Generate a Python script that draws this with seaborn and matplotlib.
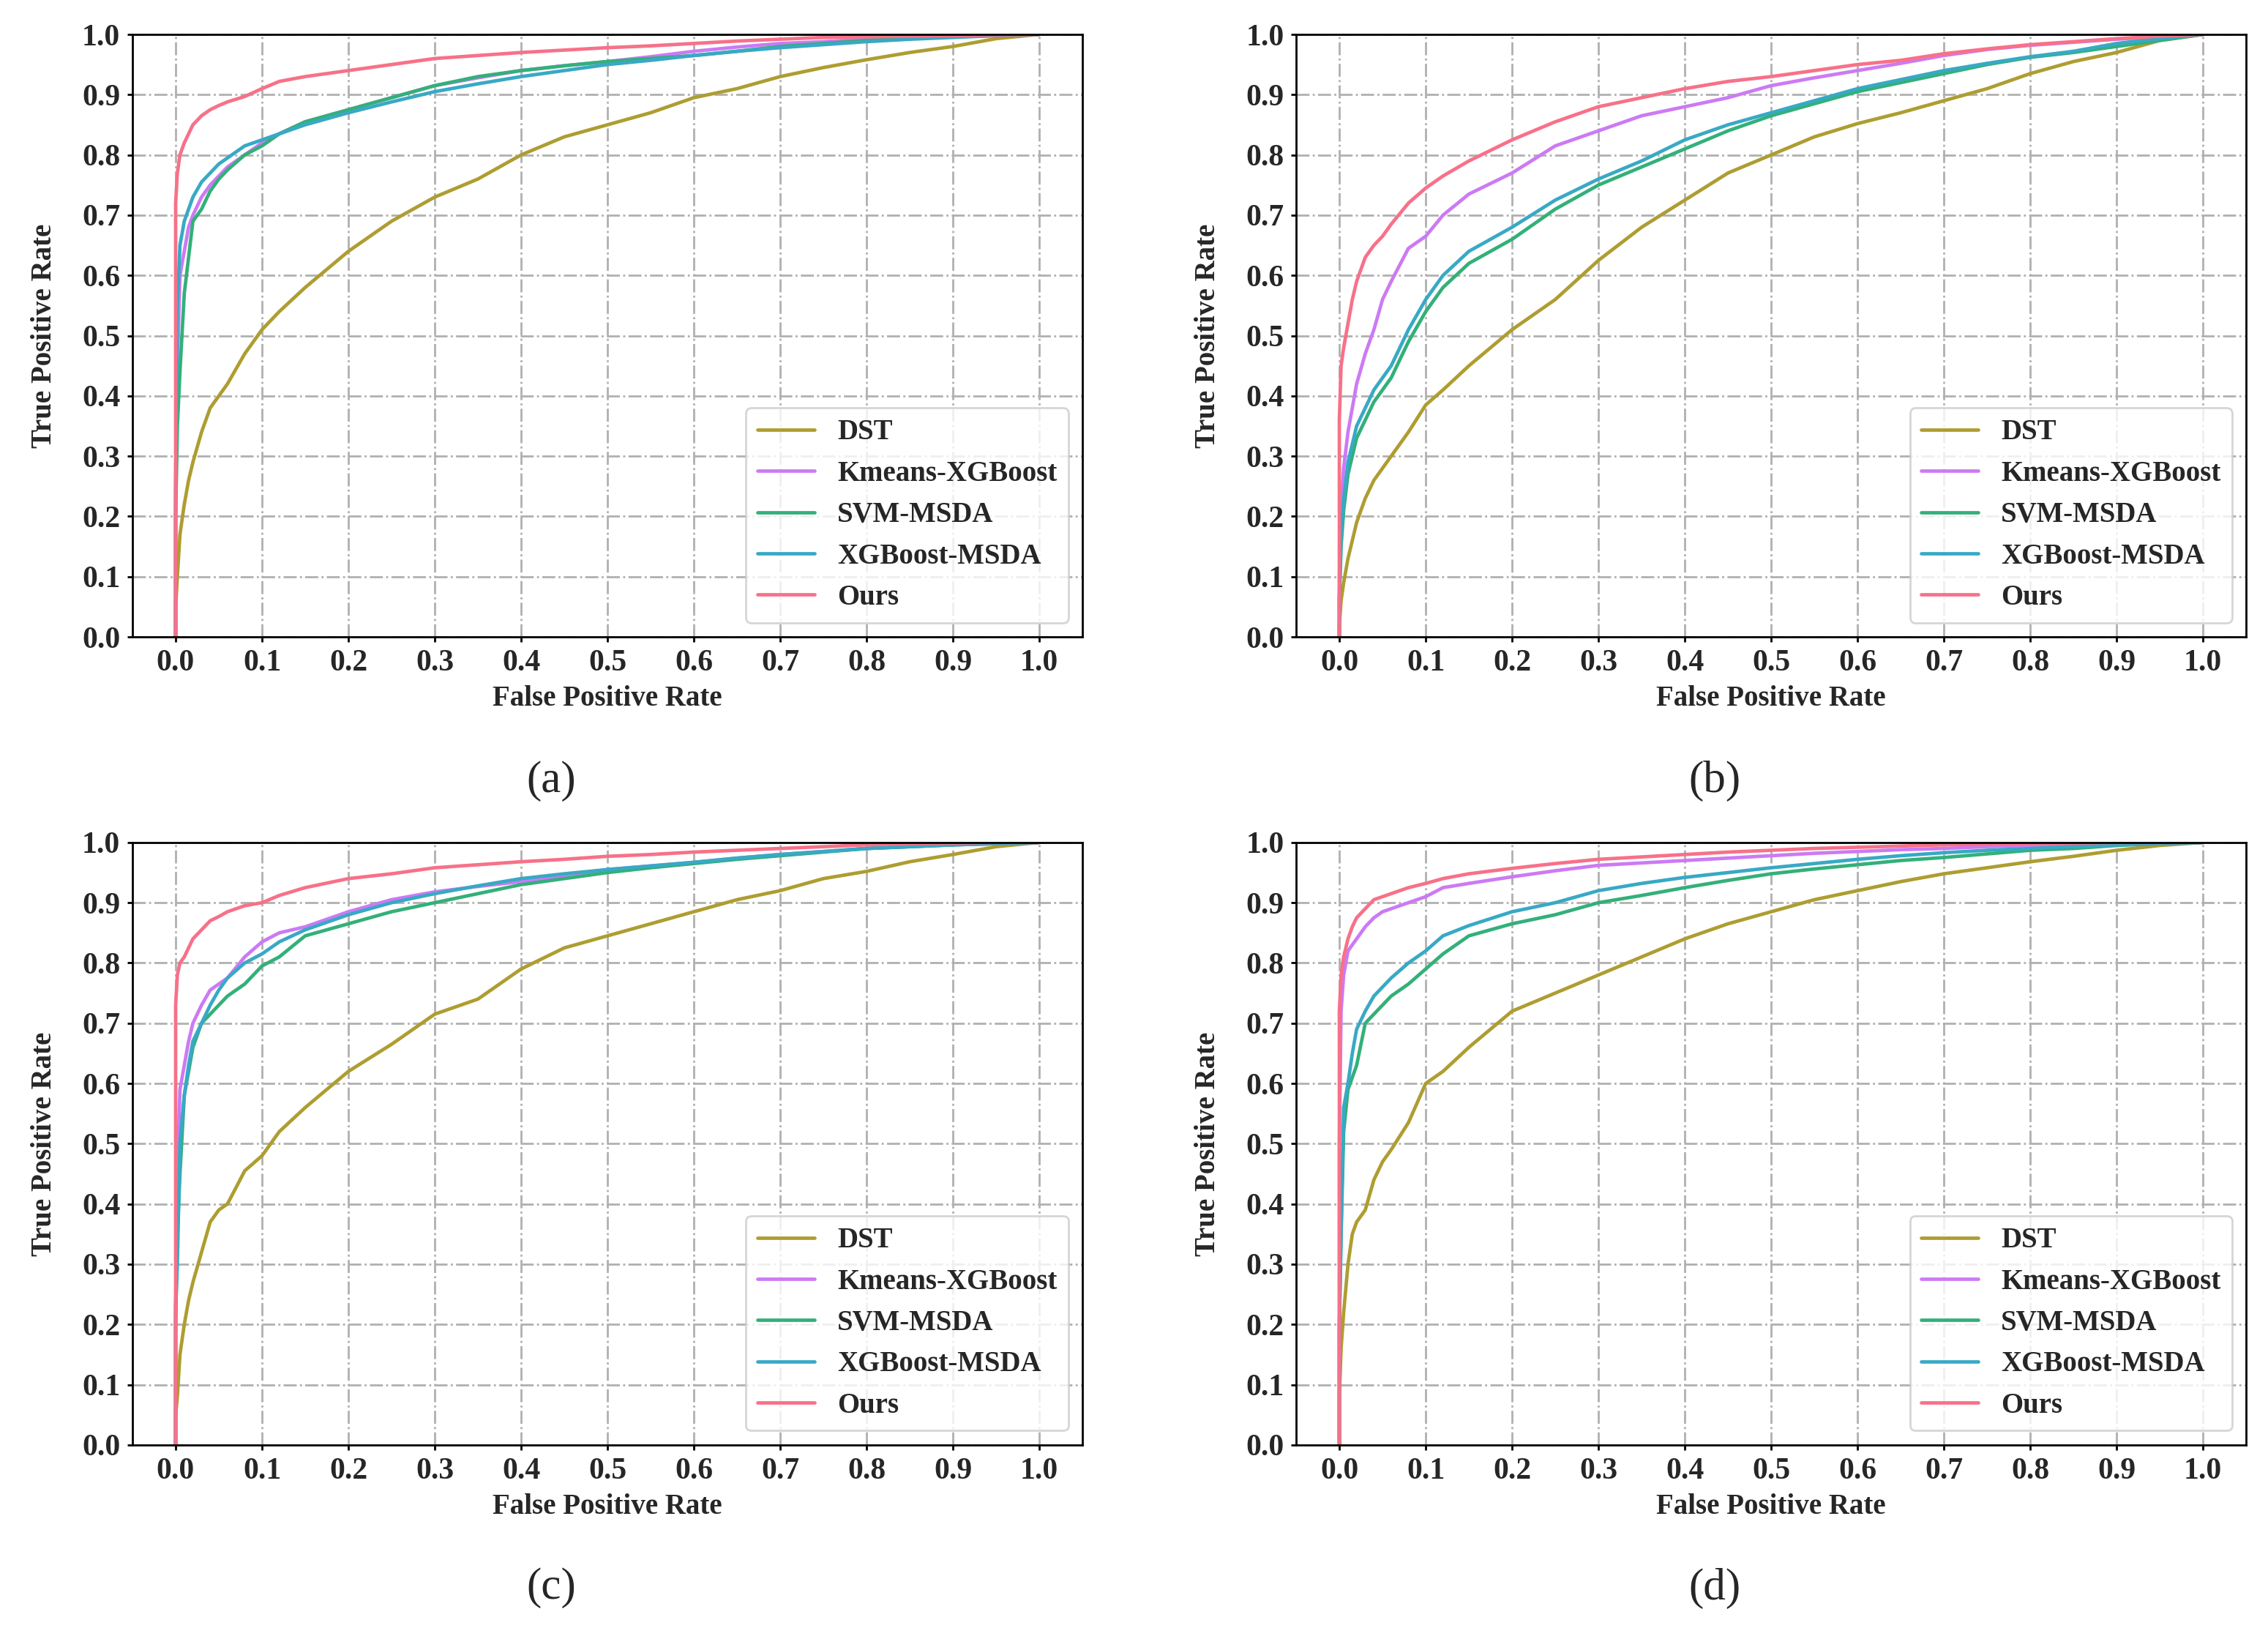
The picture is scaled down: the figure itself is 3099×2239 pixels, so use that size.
import pandas as pd
import seaborn as sns
import matplotlib.pyplot as plt

# ROC curves of five detectors on four test sets
METHODS = ['DST', 'Kmeans-XGBoost', 'SVM-MSDA', 'XGBoost-MSDA', 'Ours']
PANELS = ['(a)', '(b)', '(c)', '(d)']

# shared false positive rate grid (0 appears twice for the initial vertical rise)
FPR = [0.0, 0.0, 0.002, 0.005, 0.01, 0.015, 0.02, 0.03, 0.04, 0.05, 0.06, 0.08,
       0.1, 0.12, 0.15, 0.2, 0.25, 0.3, 0.35, 0.4, 0.45, 0.5, 0.55, 0.6, 0.65,
       0.7, 0.75, 0.8, 0.85, 0.9, 0.95, 1.0]

# panel (a)
A_DST = [0, 0.05, 0.10, 0.17, 0.22, 0.26, 0.29, 0.34, 0.38, 0.40, 0.42, 0.47, 0.51, 0.54, 0.58, 0.64,
         0.69, 0.73, 0.76, 0.80, 0.83, 0.85, 0.87, 0.895, 0.91, 0.93, 0.945, 0.958, 0.97, 0.98, 0.993, 1.0]
A_KMEANS = [0, 0.23, 0.45, 0.60, 0.64, 0.68, 0.70, 0.73, 0.75, 0.765, 0.78, 0.80, 0.82, 0.835, 0.855, 0.875,
            0.895, 0.915, 0.928, 0.94, 0.948, 0.955, 0.963, 0.972, 0.979, 0.985, 0.988, 0.992, 0.995, 0.997, 0.999, 1.0]
A_SVM = [0, 0.2, 0.35, 0.44, 0.57, 0.63, 0.69, 0.71, 0.74, 0.76, 0.775, 0.80, 0.815, 0.835, 0.855, 0.875,
         0.895, 0.915, 0.93, 0.94, 0.948, 0.955, 0.96, 0.965, 0.972, 0.98, 0.985, 0.99, 0.993, 0.996, 0.998, 1.0]
A_XGB = [0, 0.25, 0.55, 0.65, 0.69, 0.71, 0.73, 0.755, 0.77, 0.785, 0.795, 0.815, 0.825, 0.835, 0.85, 0.87,
         0.888, 0.905, 0.918, 0.93, 0.94, 0.95, 0.957, 0.965, 0.972, 0.978, 0.983, 0.988, 0.992, 0.995, 0.998, 1.0]
A_OURS = [0, 0.72, 0.77, 0.80, 0.82, 0.835, 0.85, 0.865, 0.875, 0.882, 0.888, 0.897, 0.91, 0.922, 0.93, 0.94,
          0.95, 0.96, 0.965, 0.97, 0.974, 0.978, 0.981, 0.985, 0.989, 0.992, 0.995, 0.996, 0.997, 0.998, 0.999, 1.0]

# panel (b)
B_DST = [0, 0.02, 0.06, 0.09, 0.13, 0.16, 0.19, 0.23, 0.26, 0.28, 0.30, 0.34, 0.385, 0.41, 0.45, 0.51,
         0.56, 0.625, 0.68, 0.725, 0.77, 0.80, 0.83, 0.852, 0.87, 0.89, 0.91, 0.935, 0.955, 0.97, 0.99, 1.0]
B_KMEANS = [0, 0.1, 0.22, 0.28, 0.34, 0.38, 0.42, 0.47, 0.51, 0.56, 0.59, 0.645, 0.665, 0.70, 0.735, 0.77,
            0.815, 0.84, 0.865, 0.88, 0.895, 0.915, 0.928, 0.94, 0.952, 0.965, 0.975, 0.982, 0.987, 0.992, 0.996, 1.0]
B_SVM = [0, 0.06, 0.15, 0.21, 0.27, 0.30, 0.33, 0.36, 0.39, 0.41, 0.43, 0.49, 0.54, 0.58, 0.62, 0.66,
         0.71, 0.75, 0.78, 0.81, 0.84, 0.865, 0.885, 0.905, 0.92, 0.935, 0.95, 0.962, 0.97, 0.98, 0.99, 1.0]
B_XGB = [0, 0.07, 0.17, 0.23, 0.29, 0.32, 0.35, 0.38, 0.41, 0.43, 0.45, 0.51, 0.56, 0.60, 0.64, 0.68,
         0.725, 0.76, 0.79, 0.825, 0.85, 0.87, 0.89, 0.91, 0.925, 0.94, 0.952, 0.963, 0.972, 0.985, 0.993, 1.0]
B_OURS = [0, 0.36, 0.45, 0.48, 0.52, 0.56, 0.59, 0.63, 0.65, 0.665, 0.685, 0.72, 0.745, 0.765, 0.79, 0.825,
          0.855, 0.88, 0.895, 0.91, 0.922, 0.93, 0.94, 0.95, 0.957, 0.968, 0.976, 0.983, 0.988, 0.993, 0.997, 1.0]

# panel (c)
C_DST = [0, 0.05, 0.08, 0.15, 0.20, 0.24, 0.27, 0.32, 0.37, 0.39, 0.40, 0.455, 0.48, 0.52, 0.56, 0.62,
         0.665, 0.715, 0.74, 0.79, 0.825, 0.845, 0.865, 0.885, 0.905, 0.92, 0.94, 0.952, 0.968, 0.98, 0.993, 1.0]
C_KMEANS = [0, 0.23, 0.45, 0.59, 0.63, 0.67, 0.70, 0.73, 0.755, 0.765, 0.775, 0.81, 0.835, 0.85, 0.86, 0.885,
            0.905, 0.918, 0.927, 0.935, 0.945, 0.955, 0.961, 0.967, 0.974, 0.98, 0.985, 0.99, 0.993, 0.996, 0.998, 1.0]
C_SVM = [0, 0.2, 0.35, 0.45, 0.58, 0.62, 0.66, 0.70, 0.715, 0.73, 0.745, 0.765, 0.795, 0.81, 0.845, 0.865,
         0.885, 0.90, 0.915, 0.93, 0.94, 0.95, 0.958, 0.965, 0.972, 0.978, 0.984, 0.99, 0.993, 0.996, 0.998, 1.0]
C_XGB = [0, 0.23, 0.3, 0.5, 0.58, 0.63, 0.67, 0.70, 0.73, 0.755, 0.775, 0.80, 0.815, 0.835, 0.855, 0.88,
         0.9, 0.915, 0.928, 0.94, 0.948, 0.955, 0.961, 0.967, 0.974, 0.98, 0.985, 0.99, 0.993, 0.996, 0.998, 1.0]
C_OURS = [0, 0.73, 0.78, 0.80, 0.81, 0.825, 0.84, 0.855, 0.87, 0.877, 0.885, 0.895, 0.90, 0.912, 0.925, 0.94,
          0.948, 0.958, 0.963, 0.968, 0.972, 0.977, 0.98, 0.984, 0.987, 0.99, 0.993, 0.996, 0.998, 0.999, 1.0, 1.0]

# panel (d)
D_DST = [0, 0.08, 0.16, 0.22, 0.30, 0.35, 0.37, 0.39, 0.44, 0.47, 0.49, 0.535, 0.60, 0.62, 0.66, 0.72,
         0.75, 0.78, 0.81, 0.84, 0.865, 0.885, 0.905, 0.92, 0.935, 0.948, 0.958, 0.968, 0.977, 0.987, 0.995, 1.0]
D_KMEANS = [0, 0.5, 0.72, 0.78, 0.82, 0.83, 0.84, 0.86, 0.875, 0.885, 0.89, 0.9, 0.91, 0.925, 0.932, 0.943,
            0.953, 0.962, 0.966, 0.97, 0.974, 0.978, 0.982, 0.985, 0.988, 0.99, 0.993, 0.995, 0.997, 0.998, 0.999, 1.0]
D_SVM = [0, 0.2, 0.35, 0.52, 0.59, 0.61, 0.63, 0.70, 0.715, 0.73, 0.745, 0.765, 0.79, 0.815, 0.845, 0.865,
         0.88, 0.90, 0.912, 0.925, 0.937, 0.948, 0.956, 0.963, 0.97, 0.975, 0.981, 0.987, 0.99, 0.995, 0.998, 1.0]
D_XGB = [0, 0.2, 0.35, 0.56, 0.60, 0.65, 0.69, 0.72, 0.745, 0.76, 0.775, 0.80, 0.82, 0.845, 0.862, 0.885,
         0.90, 0.92, 0.932, 0.942, 0.95, 0.958, 0.965, 0.972, 0.978, 0.983, 0.987, 0.99, 0.993, 0.996, 0.998, 1.0]
D_OURS = [0, 0.72, 0.78, 0.81, 0.84, 0.86, 0.875, 0.89, 0.905, 0.91, 0.915, 0.925, 0.932, 0.94, 0.948, 0.957,
          0.965, 0.972, 0.976, 0.98, 0.984, 0.987, 0.99, 0.992, 0.994, 0.996, 0.997, 0.998, 0.999, 1.0, 1.0, 1.0]

TPR = {
    '(a)': [A_DST, A_KMEANS, A_SVM, A_XGB, A_OURS],
    '(b)': [B_DST, B_KMEANS, B_SVM, B_XGB, B_OURS],
    '(c)': [C_DST, C_KMEANS, C_SVM, C_XGB, C_OURS],
    '(d)': [D_DST, D_KMEANS, D_SVM, D_XGB, D_OURS],
}
TICKS = [0.0, 0.1, 0.2, 0.3, 0.4, 0.5, 0.6, 0.7, 0.8, 0.9, 1.0]

sns.set_style('whitegrid', {'grid.linestyle': '-.', 'grid.color': '#b0b0b0',
                            'axes.edgecolor': 'black'})
plt.rcParams['font.family'] = ['Liberation Serif', 'DejaVu Serif']
plt.rcParams['font.weight'] = 'bold'
plt.rcParams['axes.labelweight'] = 'bold'

husl = sns.color_palette('husl', 5)
colors = [husl[1], husl[4], husl[2], husl[3], husl[0]]

fig = plt.figure(figsize=(15.495, 11.195), dpi=200)
w, h = 0.4189, 0.3676
rects = [[0.0584, 0.6114, w, h], [0.5715, 0.6114, w, h],
         [0.0584, 0.1184, w, h], [0.5715, 0.1184, w, h]]
cap_pos = [(0.243, 0.5235), (0.756, 0.5235), (0.243, 0.031), (0.756, 0.031)]

for panel, rect, (cx, cy) in zip(PANELS, rects, cap_pos):
    ax = fig.add_axes(rect)
    for method, tpr, c in zip(METHODS, TPR[panel], colors):
        sns.lineplot(x=FPR, y=tpr, color=c, label=method, linewidth=1.7,
                     estimator=None, sort=False, ax=ax)
    ax.set_xlim(-0.05, 1.05)
    ax.set_ylim(0, 1)
    ax.set_xticks(TICKS)
    ax.set_yticks(TICKS)
    ax.set_xticklabels([f'{t:.1f}' for t in TICKS])
    ax.set_yticklabels([f'{t:.1f}' for t in TICKS])
    ax.tick_params(labelsize=15, length=2.5, width=1, color='black',
                   bottom=True, left=True)
    ax.grid(True, linestyle='-.', linewidth=1.0, color='#b0b0b0')
    for s in ax.spines.values():
        s.set_linewidth(1.0)
        s.set_color('black')
    ax.set_xlabel('False Positive Rate', fontsize=14, labelpad=4)
    ax.set_ylabel('True Positive Rate', fontsize=14, labelpad=12)
    ax.legend(loc='lower right', fontsize=14, frameon=True)
    fig.text(cx, cy, panel, fontsize=22, fontweight='normal',
             ha='center', va='center')

fig.savefig('out.png', dpi=200)
